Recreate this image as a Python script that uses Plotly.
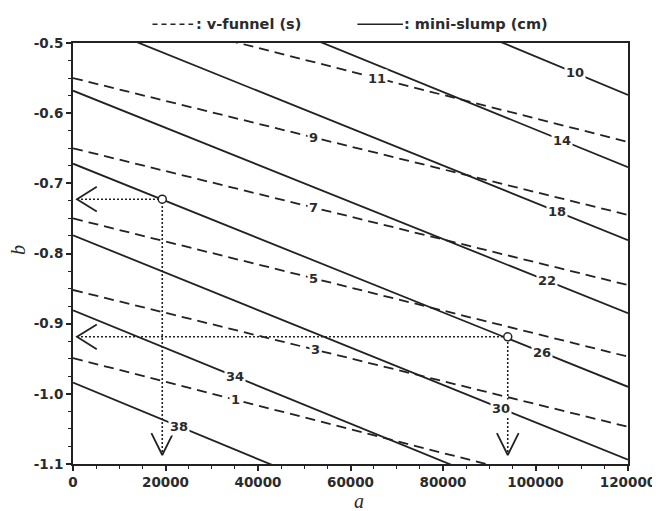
import plotly.graph_objects as go

# ---------------- data ----------------
A_RANGE = [0, 120000]
B_RANGE = [-1.1, -0.5]
A_LEFT, A_RIGHT = 0, 120000  # a-positions where the contour b-values below are read

# mini-slump contours (cm): b at a=0 and b at a=120000
slump_levels = [10, 14, 18, 22, 26, 30, 34, 38]
slump_b_left = [-0.245, -0.355, -0.462, -0.568, -0.672, -0.774, -0.881, -0.984]
slump_b_right = [-0.574, -0.677, -0.781, -0.885, -0.990, -1.094, -1.204, -1.311]
slump_label_a = [108600, 105700, 104700, 102500, 101400, 92500, 35100, 23000]

# v-funnel contours (s): b at a=0 and b at a=120000
funnel_levels = [11, 9, 7, 5, 3, 1]
funnel_b_left = [-0.440, -0.550, -0.650, -0.750, -0.852, -0.949]
funnel_b_right = [-0.641, -0.745, -0.845, -0.947, -1.047, -1.152]
funnel_label_a = [65800, 51900, 51900, 51900, 52500, 35100]

# design points (open circles) and arrow targets
design_a = [19300, 94000]
design_b = [-0.7226, -0.9187]
arrow_left_a = 860        # tip of the "<" arrows on the b axis
arrow_down_b = -1.0872    # tip of the "v" arrows on the a axis

x_tickvals = [0, 20000, 40000, 60000, 80000, 100000, 120000]
x_ticktext = ["0", "20000", "40000", "60000", "80000", "100000", "120000"]
y_tickvals = [-0.5, -0.6, -0.7, -0.8, -0.9, -1.0, -1.1]
y_ticktext = ["-0.5", "-0.6", "-0.7", "-0.8", "-0.9", "-1.0", "-1.1"]

# ---------------- style ----------------
INK = "#222222"
TXT = "#2b2b2b"
FONT = "DejaVu Sans"
ARROW_DA, ARROW_DB_DOWN = 2350, 0.0313   # half width / height of the down chevrons
ARROW_DA_LEFT, ARROW_DB_LEFT = 4280, 0.0176

fig = go.Figure()


def interp(bl, br, a):
    return bl + (br - bl) * (a - A_LEFT) / (A_RIGHT - A_LEFT)


for lvl, bl, br in zip(funnel_levels, funnel_b_left, funnel_b_right):
    fig.add_trace(go.Scatter(x=[A_LEFT, A_RIGHT], y=[bl, br], mode="lines",
                             line=dict(color=INK, width=1.8, dash="10px,6px"),
                             hoverinfo="skip", showlegend=False))
for lvl, bl, br in zip(slump_levels, slump_b_left, slump_b_right):
    fig.add_trace(go.Scatter(x=[A_LEFT, A_RIGHT], y=[bl, br], mode="lines",
                             line=dict(color=INK, width=1.8),
                             hoverinfo="skip", showlegend=False))

# dotted guide lines and chevron arrows
for a, b in zip(design_a, design_b):
    fig.add_trace(go.Scatter(x=[arrow_left_a, a, a], y=[b, b, arrow_down_b], mode="lines",
                             line=dict(color=INK, width=1.6, dash="2px,2px"),
                             hoverinfo="skip", showlegend=False))
    fig.add_trace(go.Scatter(x=[arrow_left_a + ARROW_DA_LEFT, arrow_left_a, arrow_left_a + ARROW_DA_LEFT],
                             y=[b + ARROW_DB_LEFT, b, b - ARROW_DB_LEFT], mode="lines",
                             line=dict(color=INK, width=1.8),
                             hoverinfo="skip", showlegend=False))
    fig.add_trace(go.Scatter(x=[a - ARROW_DA, a, a + ARROW_DA],
                             y=[arrow_down_b + ARROW_DB_DOWN, arrow_down_b, arrow_down_b + ARROW_DB_DOWN],
                             mode="lines", line=dict(color=INK, width=1.8),
                             hoverinfo="skip", showlegend=False))

fig.add_trace(go.Scatter(x=design_a, y=design_b, mode="markers",
                         marker=dict(symbol="circle", size=8, color="white",
                                     line=dict(color=INK, width=1.5)),
                         hoverinfo="skip", showlegend=False))

LABEL_FONT = dict(family=FONT, size=13, color=TXT, weight="bold")
annotations = []
for lvl, bl, br, la in zip(slump_levels, slump_b_left, slump_b_right, slump_label_a):
    annotations.append(dict(x=la, y=interp(bl, br, la), text=str(lvl), showarrow=False,
                            bgcolor="white", borderpad=1, font=LABEL_FONT))
for lvl, bl, br, la in zip(funnel_levels, funnel_b_left, funnel_b_right, funnel_label_a):
    annotations.append(dict(x=la, y=interp(bl, br, la), text=str(lvl), showarrow=False,
                            bgcolor="white", borderpad=1, font=LABEL_FONT))

# ---- layout geometry (window pixels; page body adds an 8px offset) ----
W, H = 660, 511
BODY = 8
PLOT_L, PLOT_R, PLOT_T, PLOT_B = 72.7, 633.3, 42.7, 464.0   # frame position in the window
L, T = PLOT_L - BODY, PLOT_T - BODY
R, B = W - (PLOT_R - BODY), H - (PLOT_B - BODY)
pw, ph = PLOT_R - PLOT_L, PLOT_B - PLOT_T


def px(xp):
    return (xp - PLOT_L) / pw


def py(yp):
    return (PLOT_B - yp) / ph


LEG_Y = 24
shapes = [
    dict(type="line", xref="paper", yref="paper", x0=px(153), x1=px(194), y0=py(LEG_Y), y1=py(LEG_Y),
         line=dict(color=INK, width=1.6, dash="5px,4px")),
    dict(type="line", xref="paper", yref="paper", x0=px(360), x1=px(406), y0=py(LEG_Y), y1=py(LEG_Y),
         line=dict(color=INK, width=1.6)),
]
LEG_FONT = dict(family=FONT, size=14.5, color=TXT, weight="bold")
annotations += [
    dict(xref="paper", yref="paper", x=px(195), y=py(LEG_Y), xanchor="left", yanchor="middle",
         text=": v-funnel (s)", showarrow=False, font=LEG_FONT),
    dict(xref="paper", yref="paper", x=px(405), y=py(LEG_Y), xanchor="left", yanchor="middle",
         text=": mini-slump (cm)", showarrow=False, font=LEG_FONT),
    dict(xref="paper", yref="paper", x=px(362), y=py(501), xanchor="center", yanchor="middle",
         text="a", showarrow=False,
         font=dict(family="Liberation Serif", size=20, color=TXT, style="italic")),
    dict(xref="paper", yref="paper", x=px(17), y=py(250), xanchor="center", yanchor="middle",
         text="b", textangle=-90, showarrow=False,
         font=dict(family="Liberation Serif", size=20, color=TXT, style="italic")),
]

axis_common = dict(showgrid=False, zeroline=False, showline=True, linewidth=2, linecolor=INK,
                   mirror=True, ticks="outside", tickwidth=1.5, tickcolor=INK,
                   tickfont=dict(family=FONT, size=13.5, color=TXT, weight="bold"))

fig.update_layout(
    width=W, height=H,
    margin=dict(l=L, r=R, t=T, b=B),
    plot_bgcolor="white", paper_bgcolor="white",
    showlegend=False,
    xaxis=dict(range=A_RANGE, tickmode="array", tickvals=x_tickvals, ticktext=x_ticktext,
               ticklen=5, minor=dict(dtick=5000, ticks="outside", ticklen=3, tickwidth=1.2, tickcolor=INK),
               **axis_common),
    yaxis=dict(range=B_RANGE, tickmode="array", tickvals=y_tickvals, ticktext=y_ticktext,
               ticklen=5, minor=dict(dtick=0.025, ticks="outside", ticklen=3, tickwidth=1.2, tickcolor=INK),
               **axis_common),
    shapes=shapes,
    annotations=annotations,
)

fig.write_html("out.html")
